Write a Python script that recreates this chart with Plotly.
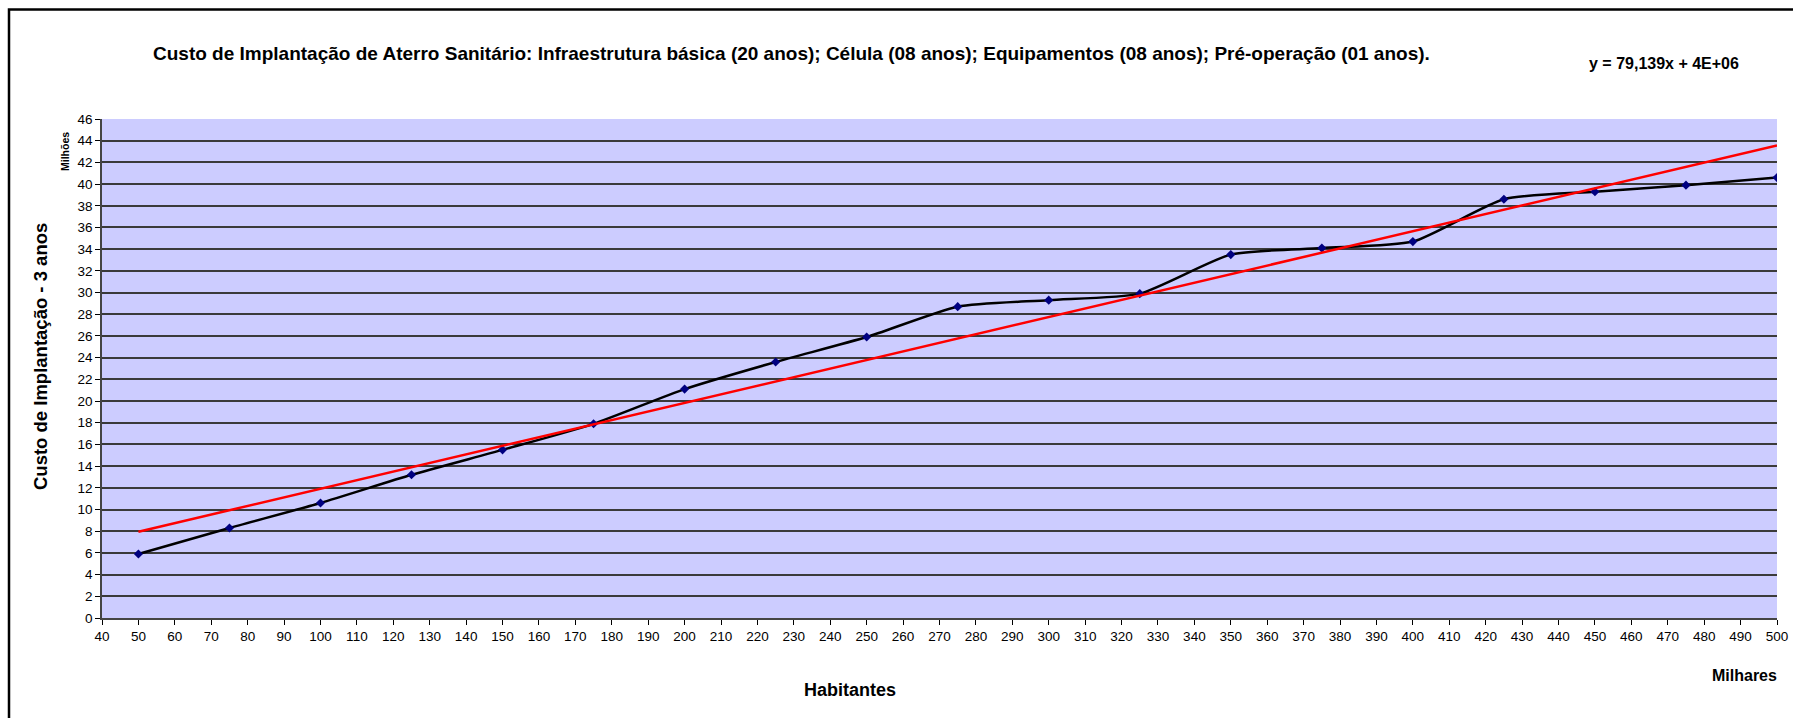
import plotly.graph_objects as go

# Data (population in thousands, cost in millions)
habitantes = [50, 75, 100, 125, 150, 175, 200, 225, 250, 275, 300, 325, 350, 375, 400, 425, 450, 475, 500]
custo = [5.9, 8.3, 10.6, 13.2, 15.5, 17.9, 21.1, 23.6, 25.9, 28.7, 29.3, 29.9, 33.5, 34.1, 34.7, 38.6, 39.3, 39.9, 40.6]

# Trendline from equation shown: y = 79,139x + 4E+06 (x in habitantes, y in R$)
trend_slope = 79.139
trend_intercept = 4.0e6
trend_x = [50, 500]
trend_y = [(trend_slope * x * 1000 + trend_intercept) / 1e6 for x in trend_x]

x_ticks = list(range(40, 501, 10))
y_ticks = list(range(0, 47, 2))

FONT = "Liberation Sans, Arial"

fig = go.Figure()
fig.add_trace(go.Scatter(
    x=habitantes, y=custo, mode="lines+markers",
    line=dict(color="black", width=2.5, shape="spline", smoothing=0.6),
    marker=dict(symbol="diamond", color="#000080", size=7),
    showlegend=False))
fig.add_trace(go.Scatter(
    x=trend_x, y=trend_y, mode="lines",
    line=dict(color="#FF0000", width=2.5), showlegend=False))

W, H = 1793, 718
ml, mr, mt, mb = 102, 16, 119, 100
pw, ph = W - ml - mr, H - mt - mb

def px(xp):
    return (xp - ml) / pw

def py(yp):
    return (H - mb - yp) / ph

fig.update_layout(
    width=W, height=H,
    margin=dict(l=ml, r=mr, t=mt, b=mb, autoexpand=False),
    paper_bgcolor="white", plot_bgcolor="#CCCCFF",
    font=dict(family=FONT, color="black", size=13),
    xaxis=dict(range=[40, 500], tickvals=x_ticks, ticktext=[str(v) for v in x_ticks],
               ticks="outside", ticklen=5, tickcolor="black", showgrid=False,
               showline=True, linecolor="#444", linewidth=1.5, zeroline=False,
               tickfont=dict(size=13.5, family=FONT), tickangle=0, automargin=False),
    yaxis=dict(range=[0, 46], tickvals=y_ticks, ticktext=[str(v) for v in y_ticks],
               ticks="outside", ticklen=5, tickcolor="black",
               showgrid=True, gridcolor="#3a3a3a", gridwidth=1.6,
               showline=True, linecolor="#444", linewidth=1.5, zeroline=False,
               tickfont=dict(size=13.5, family=FONT), automargin=False),
    shapes=[dict(type="rect", xref="paper", yref="paper",
                 x0=px(9), x1=px(1810), y0=py(740), y1=py(9.5),
                 line=dict(color="black", width=2.5), fillcolor="rgba(0,0,0,0)", layer="below")],
    annotations=[
        dict(text="<b>Custo de Implantação de Aterro Sanitário: Infraestrutura básica (20 anos); Célula (08 anos); Equipamentos (08 anos); Pré-operação (01 anos).</b>",
             xref="paper", yref="paper", x=px(791), y=py(53), showarrow=False,
             font=dict(size=19, family=FONT), xanchor="center", yanchor="middle"),
        dict(text="<b>y = 79,139x + 4E+06</b>",
             xref="paper", yref="paper", x=px(1664), y=py(63), showarrow=False,
             font=dict(size=16, family=FONT), xanchor="center", yanchor="middle"),
        dict(text="<b>Custo de Implantação - 3 anos</b>",
             xref="paper", yref="paper", x=px(40), y=py(357), showarrow=False, textangle=-90,
             font=dict(size=18.5, family=FONT), xanchor="center", yanchor="middle"),
        dict(text="<b>Milhões</b>",
             xref="paper", yref="paper", x=px(65), y=py(152), showarrow=False, textangle=-90,
             font=dict(size=10.5, family=FONT), xanchor="center", yanchor="middle"),
        dict(text="<b>Habitantes</b>",
             xref="paper", yref="paper", x=px(850), y=py(690), showarrow=False,
             font=dict(size=18, family=FONT), xanchor="center", yanchor="middle"),
        dict(text="<b>Milhares</b>",
             xref="paper", yref="paper", x=px(1744), y=py(675), showarrow=False,
             font=dict(size=16, family=FONT), xanchor="center", yanchor="middle"),
    ],
)

fig.write_html("out.html", config={"displayModeBar": False},
               post_script="document.body.style.margin='0';document.body.style.padding='0';")
